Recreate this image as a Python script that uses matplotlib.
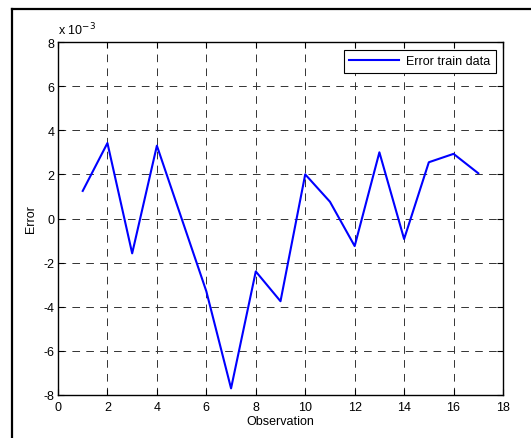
import matplotlib
matplotlib.use("Agg")
import matplotlib.pyplot as plt
from matplotlib.lines import Line2D

plt.rcParams['font.family'] = ['Liberation Sans', 'DejaVu Sans']
plt.rcParams['lines.scale_dashes'] = False
plt.rcParams['axes.unicode_minus'] = False

observation = [1, 2, 3, 4, 5, 6, 7, 8, 9, 10, 11, 12, 13, 14, 15, 16, 17]
error_e3 = [1.25, 3.42, -1.58, 3.3, 0.0, -3.3, -7.7, -2.4, -3.75,
            2.0, 0.76, -1.25, 3.0, -0.93, 2.55, 2.93, 2.05]
xticks = [0, 2, 4, 6, 8, 10, 12, 14, 16, 18]
yticks = [-8, -6, -4, -2, 0, 2, 4, 6, 8]

fig = plt.figure(figsize=(5.31, 4.39), dpi=100)
ax = fig.add_axes([58/531, 43/439, 445/531, 353/439])

ax.plot(observation, error_e3, color=(0, 0, 1), lw=1.5, label='Error train data')
ax.set_xlim(0, 18)
ax.set_ylim(-8, 8)
ax.set_xticks(xticks)
ax.set_yticks(yticks)
ax.tick_params(direction='in', top=True, right=True, length=4, width=0.8,
               labelsize=9)
ax.tick_params(axis='x', pad=4)
ax.tick_params(axis='y', pad=2.5)
ax.grid(True, color='0.2', linestyle=(0, (5.5, 4.5)), linewidth=0.7)
for s in ax.spines.values():
    s.set_linewidth(1.0)
ax.set_xlabel('Observation', fontsize=9, labelpad=2)
ax.set_ylabel('Error', fontsize=9, labelpad=5)
ax.text(0.0, 1.012, r'x 10$^{-3}$', transform=ax.transAxes, fontsize=9,
        ha='left', va='bottom')

leg = ax.legend(loc='upper right', fontsize=9, frameon=True, fancybox=False,
                edgecolor='black', framealpha=1, borderaxespad=0.6,
                handlelength=4.0, handletextpad=0.5, borderpad=0.45)
leg.get_frame().set_linewidth(0.8)

# outer frame of the image
fig.add_artist(Line2D([12/531, 12/531], [0, 1 - 10/439], transform=fig.transFigure,
                      color='black', lw=1.6))
fig.add_artist(Line2D([12/531, 1], [1 - 10/439, 1 - 10/439], transform=fig.transFigure,
                      color='black', lw=1.6))

fig.savefig('out.png', dpi=100)
